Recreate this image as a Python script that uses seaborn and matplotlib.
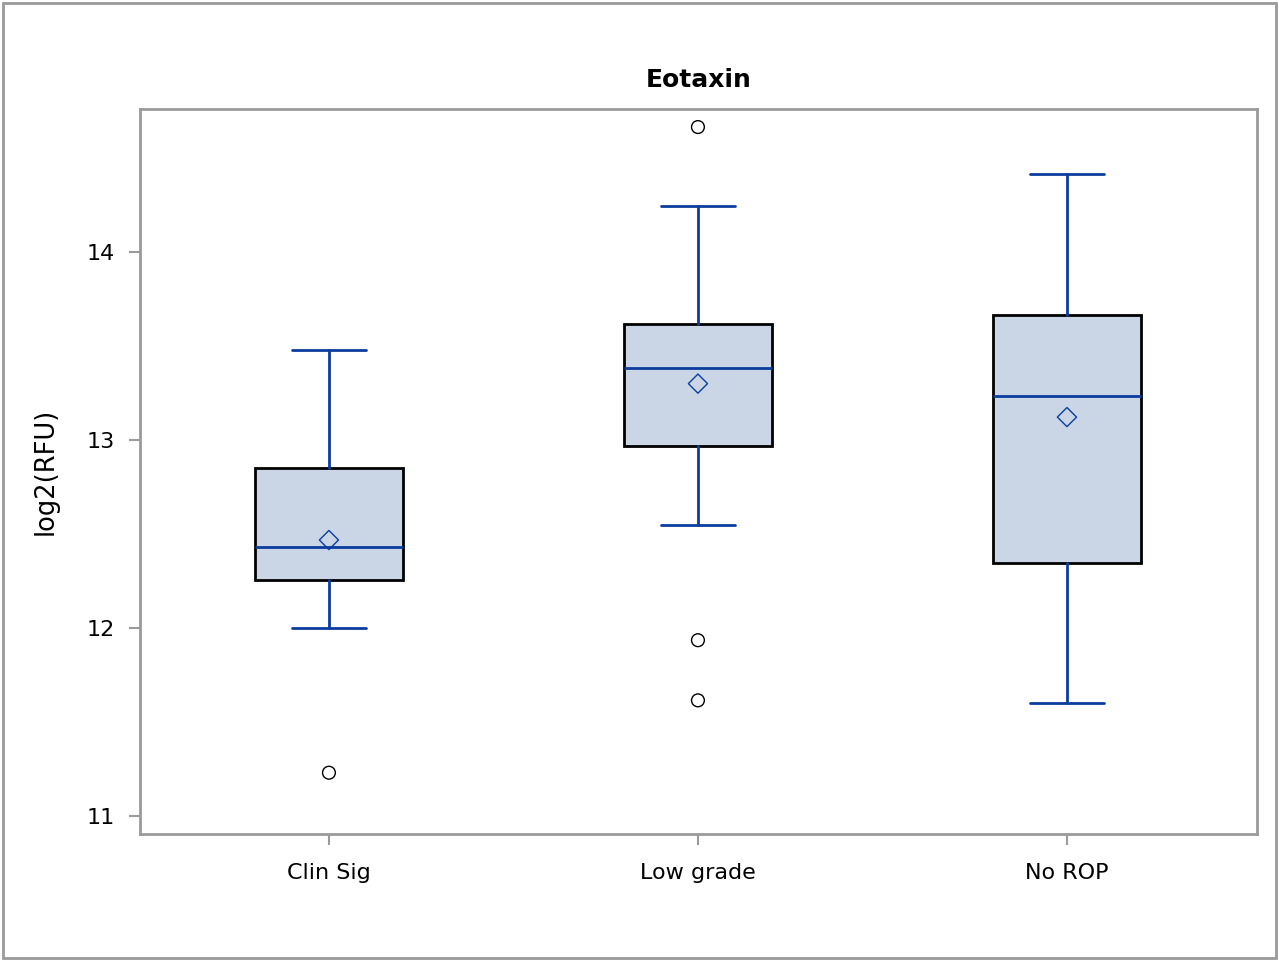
import matplotlib
matplotlib.use("Agg")
import matplotlib.pyplot as plt
import seaborn as sns
import pandas as pd
from matplotlib.patches import Rectangle

sns.set_theme(style="white")
plt.rcParams['font.family'] = ['DejaVu Sans']
plt.rcParams['text.color'] = 'black'
plt.rcParams['axes.labelcolor'] = 'black'
plt.rcParams['xtick.color'] = 'black'
plt.rcParams['ytick.color'] = 'black'

# ---- data ----
categories = ["Clin Sig", "Low grade", "No ROP"]
whisker_low = [12.00, 12.55, 11.60]
q1 = [12.255, 12.97, 12.345]
median = [12.43, 13.385, 13.235]
q3 = [12.85, 13.615, 13.665]
whisker_high = [13.48, 14.245, 14.415]
means = [12.468, 13.30, 13.122]
outlier_groups = ["Clin Sig", "Low grade", "Low grade", "Low grade"]
outlier_values = [11.23, 14.665, 11.935, 11.615]

title = "Eotaxin"
ylabel = "log2(RFU)"
yticks = [11, 12, 13, 14]

BLUE = "#0b3d9e"
FILL = "#cad5e5"
GRAY = "#9a9a9a"

fig = plt.figure(figsize=(12.79, 9.61), dpi=100)
ax = fig.add_axes([140/1279, 1-834/961, (1257-140)/1279, (834-109)/961])

stats = []
for i, c in enumerate(categories):
    stats.append(dict(label=c, whislo=whisker_low[i], q1=q1[i], med=median[i],
                      q3=q3[i], whishi=whisker_high[i], fliers=[]))
ax.bxp(stats, positions=range(len(categories)), widths=0.4, patch_artist=True,
       showfliers=False,
       boxprops=dict(facecolor=FILL, edgecolor="black", linewidth=2),
       medianprops=dict(color=BLUE, linewidth=2),
       whiskerprops=dict(color=BLUE, linewidth=2),
       capprops=dict(color=BLUE, linewidth=2),
       capwidths=0.2, zorder=2)

cat_index = {c: i for i, c in enumerate(categories)}
df_mean = pd.DataFrame({"x": [cat_index[c] for c in categories], "y": means})
df_out = pd.DataFrame({"x": [cat_index[c] for c in outlier_groups], "y": outlier_values})
sns.scatterplot(data=df_mean, x="x", y="y", ax=ax, marker="D", s=95,
                facecolor="none", edgecolor=BLUE, linewidth=1.0, zorder=4)
sns.scatterplot(data=df_out, x="x", y="y", ax=ax, marker="o", s=85,
                facecolor="none", edgecolor="black", linewidth=1.0, zorder=4)

ax.set_xlim(-0.512, 2.515)
ax.set_ylim(10.904, 14.761)
ax.set_xticks(range(len(categories)))
ax.set_xticklabels(categories, fontsize=16)
ax.set_yticks(yticks)
ax.set_yticklabels([str(t) for t in yticks], fontsize=16)
ax.set_xlabel("")
ax.set_ylabel(ylabel, fontsize=18.5, labelpad=20)
ax.set_title(title, fontsize=18, fontweight="bold", pad=16)
ax.tick_params(axis="both", which="both", direction="out", length=8, width=1.5,
               color=GRAY, pad=10, left=True, bottom=True)
ax.tick_params(axis="x", pad=13)
for s in ax.spines.values():
    s.set_color(GRAY)
    s.set_linewidth(2)

fig.add_artist(Rectangle((3/1279, 3/961), 1273/1279, 955/961, transform=fig.transFigure,
                         fill=False, edgecolor=GRAY, linewidth=2))

fig.savefig("out.png", dpi=100)
